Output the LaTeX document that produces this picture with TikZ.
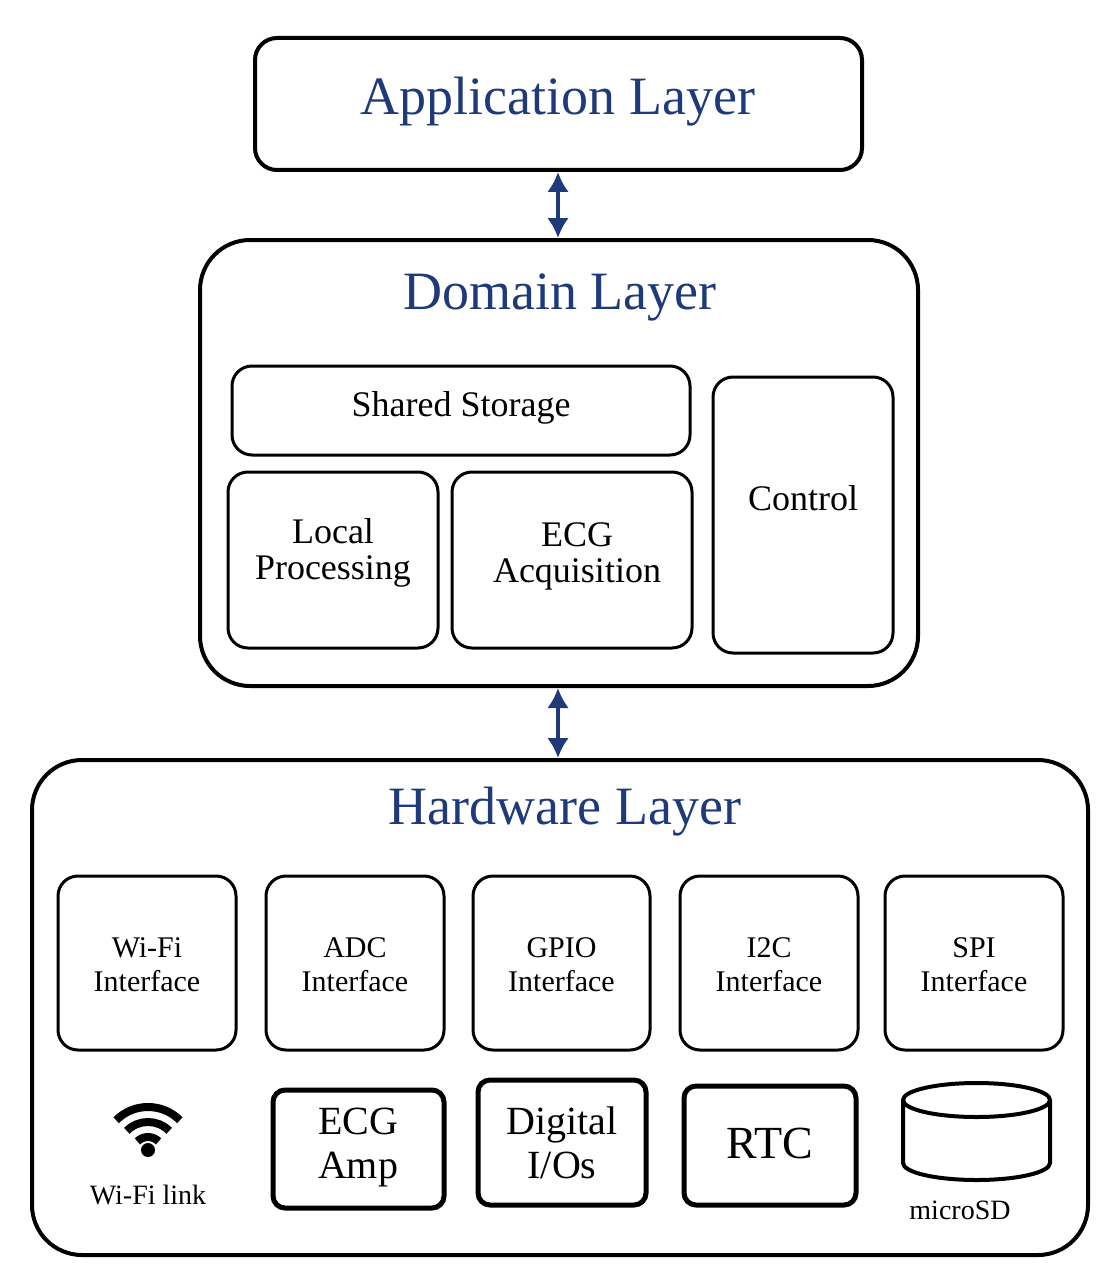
\documentclass[tikz,border=0pt]{standalone}
\usepackage{fontspec}
\setmainfont{Liberation Serif}
\usetikzlibrary{arrows.meta}
\definecolor{navy}{HTML}{1F3A7A}
\begin{document}
\begin{tikzpicture}[x=1pt,y=-1pt,
  box/.style={draw,line width=4pt,rounded corners=22pt},
  big/.style={box,rounded corners=50pt},
  sub/.style={draw,line width=3pt,rounded corners=20pt},
  hw/.style={draw,line width=5pt,rounded corners=12pt},
  ttl/.style={font=\fontsize{54}{58}\selectfont,text=navy},
  lbl/.style={font=\fontsize{36}{36}\selectfont,align=center},
  hlbl/.style={font=\fontsize{40}{44}\selectfont,align=center},
  ilbl/.style={font=\fontsize{30}{34}\selectfont,align=center},
  arr/.style={{Latex[length=20pt,width=22pt]}-{Latex[length=20pt,width=22pt]},line width=4pt,draw=navy}]
\useasboundingbox (0,0) rectangle (1113,1284);
\draw[box] (255,38) rectangle (862,170);
\node[ttl] (app) at (558,102) {Application Layer};
\coordinate (a1) at (558,172); \coordinate (a2) at (558,238);
\draw[arr] (a1) -- (a2);
\draw[big] (200,240) rectangle (918,686);
\node[ttl] (dom) at (560,297) {Domain Layer};
\draw[sub] (232,366) rectangle (690,455);
\node[lbl] (ss) at (461,408) {Shared Storage};
\draw[sub] (228,472) rectangle (438,648);
\node[lbl] (lp) at (333,553) {Local\\Processing};
\draw[sub] (452,472) rectangle (692,648);
\node[lbl] (ea) at (577,556) {ECG\\Acquisition};
\draw[sub] (713,377) rectangle (893,653);
\node[lbl] (ct) at (803,498) {Control};
\coordinate (b1) at (558,688); \coordinate (b2) at (558,758);
\draw[arr] (b1) -- (b2);
\draw[big] (32,760) rectangle (1088,1255);
\node[ttl] (hwl) at (565,812) {Hardware Layer};
\foreach \n/\xa/\xb/\t in {wi/58/236/Wi-Fi, ad/266/444/ADC, gp/473/650/GPIO, ic/680/858/I2C, sp/885/1063/SPI}{
  \draw[sub] (\xa,876) rectangle (\xb,1050);
  \node[ilbl] (\n) at ({(\xa+\xb)/2},965) {\t\\Interface};
}
\draw[hw] (273,1090) rectangle (444,1208);
\node[hlbl] (amp) at (358,1148) {ECG\\Amp};
\draw[hw] (478,1080) rectangle (646,1205);
\node[hlbl] (dio) at (562,1143) {Digital\\I/Os};
\draw[hw] (684,1086) rectangle (856,1205);
\node[hlbl,font=\fontsize{46}{46}\selectfont] (rtc) at (770,1143) {RTC};
\draw[line width=4pt,fill=white] (903,1100) -- (903,1163) arc[start angle=180,end angle=360,x radius=73.5,y radius=-17] -- (1050,1100);
\draw[line width=4pt] (976.5,1100) ellipse[x radius=73.5,y radius=17];
\node[ilbl,font=\fontsize{28}{30}\selectfont] (sdl) at (960,1210) {microSD};
\foreach \r in {15,30,45} \draw[line width=8pt] (148,1152) ++(-45:\r) arc[start angle=-45,end angle=-135,radius=\r];
\fill (148,1150) circle (7);
\node[ilbl,font=\fontsize{28}{30}\selectfont] (wl) at (148,1195) {Wi-Fi link};
\end{tikzpicture}
\end{document}
